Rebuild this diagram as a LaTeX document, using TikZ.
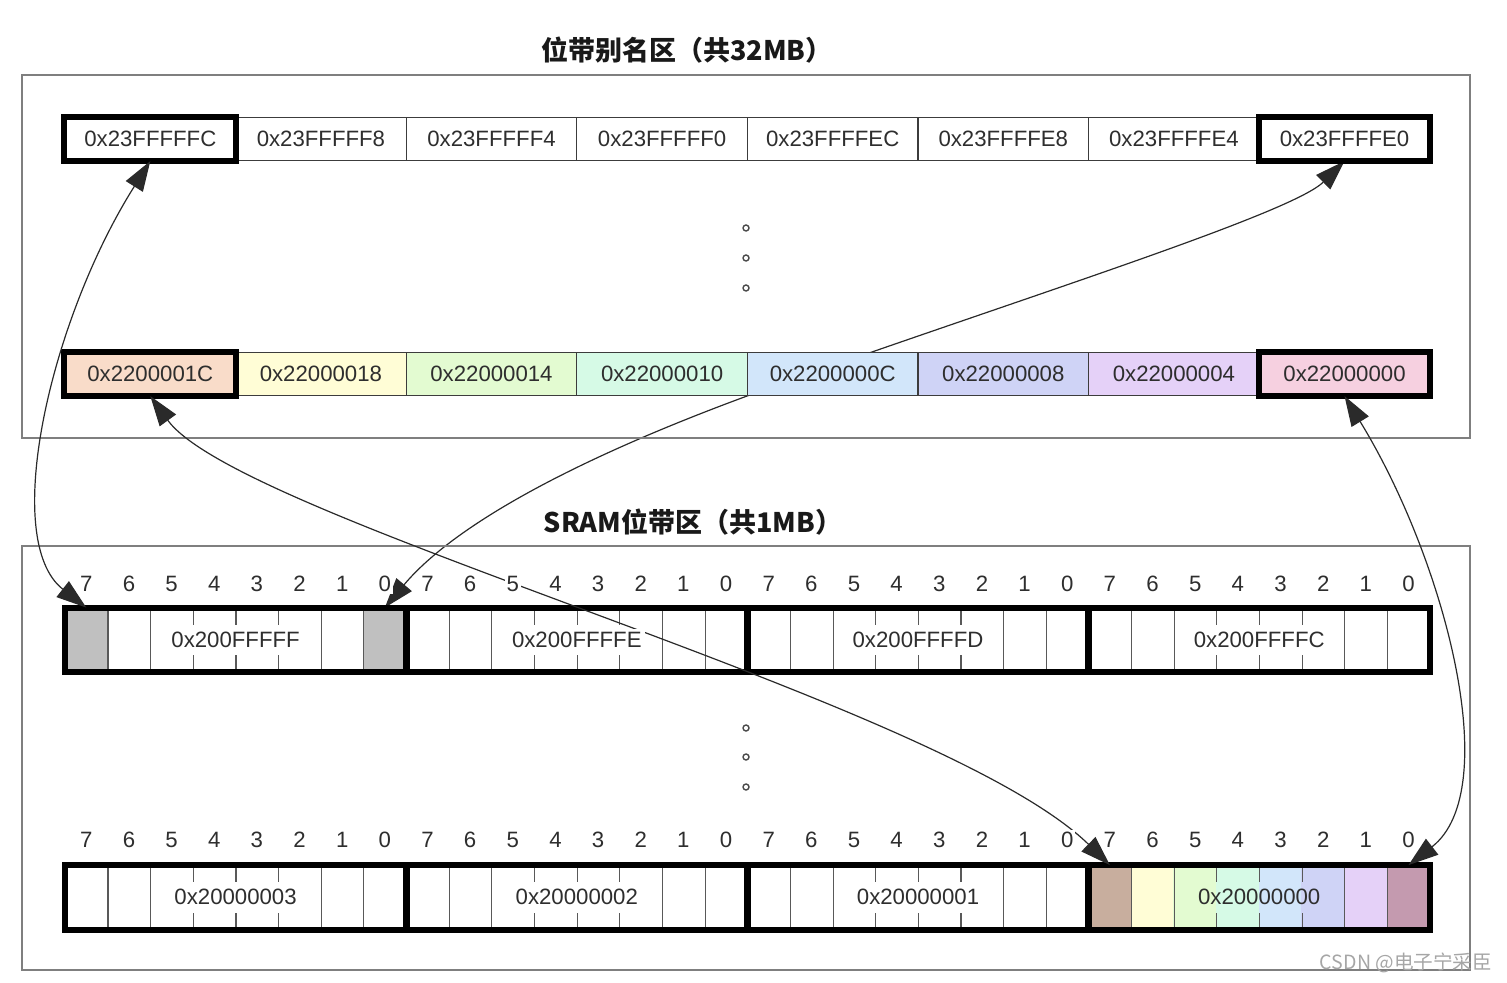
\documentclass[tikz,border=0pt]{standalone}
\usepackage{fontspec}
\setmainfont{Liberation Sans}
\newfontfamily\cjk{Noto Sans CJK SC}
\usepackage{tikz}
\usetikzlibrary{arrows.meta}
\pgfdeclarelayer{background}
\pgfsetlayers{background,main}

\definecolor{frameGray}{HTML}{7F7F7F}
\definecolor{cellLine}{HTML}{3C3C3C}
\definecolor{txtGray}{HTML}{2E2E2E}
\definecolor{linkGray}{HTML}{2A2A2A}
\definecolor{selGray}{HTML}{C0C0C0}
\definecolor{aPeach}{HTML}{F9DCC9}
\definecolor{aYellow}{HTML}{FFFDD6}
\definecolor{aGreen}{HTML}{E3FBD1}
\definecolor{aMint}{HTML}{D6FAE6}
\definecolor{aBlue}{HTML}{D2E6FA}
\definecolor{aLavender}{HTML}{CFD3F6}
\definecolor{aLilac}{HTML}{E5D1F8}
\definecolor{aPink}{HTML}{F6D0E0}
\definecolor{bTan}{HTML}{C8AE9E}
\definecolor{bMauve}{HTML}{C49AAF}

\newcommand{\cellfont}{\fontsize{11.1}{13}\selectfont}
\newcommand{\titlefont}{\cjk\bfseries\fontsize{13.5}{16}\selectfont}
\newcommand{\wmfont}{\cjk\fontsize{9.8}{11}\selectfont}

\begin{document}
\begin{tikzpicture}[x=0.5pt,y=-0.5pt,
    frame/.style={draw=frameGray,line width=0.7pt},
    cell/.style={draw=cellLine,line width=0.6pt,minimum width=85.3pt,minimum height=21.5pt,inner sep=0pt,text=txtGray,font=\cellfont},
    bitcell/.style={minimum width=21.325pt,minimum height=32pt,inner sep=0pt},
    divider/.style={draw=cellLine!85,line width=0.55pt},
    heavy/.style={draw=black,line width=3pt},
    bitno/.style={fill=white,inner sep=1pt,text=txtGray,font=\cellfont},
    bytelabel/.style={fill=white,inner sep=1.5pt,text=txtGray,font=\cellfont},
    link/.style={draw=linkGray,line width=0.6pt,{Triangle[length=15pt,width=10pt]}-{Triangle[length=15pt,width=10pt]}},
    dotmark/.style={circle,draw=black!70,fill=white,line width=0.7pt,minimum size=3pt,inner sep=0pt},
    title/.style={font=\titlefont,text=black!90},
    watermark/.style={font=\wmfont,text=black!35}]
  \useasboundingbox (0,0) rectangle (1507,983);

  % the two regions
  \draw[frame] (22,75) rectangle (1470,438);
  \draw[frame] (22,546) rectangle (1470,970);
  \node[title] (aliasTitle) at (687,50) {位带别名区（共32MB）};
  \node[title] (sramTitle) at (693,522) {SRAM位带区（共1MB）};

  % alias words
  \foreach \lab [count=\i from 0] in {FFFC,FFF8,FFF4,FFF0,FFEC,FFE8,FFE4,FFE0}
    \node[cell] (hi\i) at ({150.3+170.6*\i},139) {0x23FF\lab};
  \foreach \lab/\col [count=\i from 0] in {1C/aPeach,18/aYellow,14/aGreen,10/aMint,0C/aBlue,08/aLavender,04/aLilac,00/aPink}
    \node[cell,fill=\col] (lo\i) at ({150.3+170.6*\i},374) {0x220000\lab};
  \foreach \n in {hi0,hi7,lo0,lo7}
    \draw[heavy] (\n.south west) rectangle (\n.north east);

  \node[dotmark] (dotA) at (746,228) {};
  \node[dotmark] (dotB) at (746,258) {};
  \node[dotmark] (dotC) at (746,288) {};

  % bit rows
  \foreach \row/\yy in {u/640,d/897.5}
    \foreach \j in {0,...,3}
      \foreach \b in {0,...,7}
        \node[bitcell] (\row\j-\b) at ({86.3+341.2*\j+42.65*(7-\b)},\yy) {};
  \fill[selGray] (u0-7.south west) rectangle (u0-7.north east);
  \fill[selGray] (u0-0.south west) rectangle (u0-0.north east);
  \foreach \b/\col in {7/bTan,6/aYellow,5/aGreen,4/aMint,3/aBlue,2/aLavender,1/aLilac,0/bMauve}
    \fill[\col] (d3-\b.south west) rectangle (d3-\b.north east);
  \foreach \row in {u,d}
    \foreach \j in {0,...,3} {
      \foreach \b in {7,6,2,1}
        \draw[divider] (\row\j-\b.north east) -- (\row\j-\b.south east);
      \foreach \b in {5,4,3} {
        \draw[divider] (\row\j-\b.north east) -- ++(0,17);
        \draw[divider] (\row\j-\b.south east) -- ++(0,-17);
      }
      \draw[heavy] (\row\j-7.north west) rectangle (\row\j-0.south east);
    }

  % links between alias words and bits
  \begin{pgfonlayer}{background}
    \draw[link] (hi7.south) .. controls (1290,215) and (1000,305) .. (lo4.south west)
      .. controls (560,465) and (450,530) .. (u0-0.north);
  \end{pgfonlayer}
  \draw[link] (hi0.south) .. controls (50,320) and (0,540) .. (u0-7.north);
  \draw[link] (lo0.south) .. controls (240,520) and (940,700) .. (d3-7.north);
  \draw[link] (lo7.south) .. controls (1445,560) and (1505,790) .. (d3-0.north);

  % bit numbers and byte addresses
  \foreach \row/\ny in {u/584,d/840}
    \foreach \j in {0,...,3}
      \foreach \b in {0,...,7}
        \node[bitno] (n\row\j-\b) at ({86.3+341.2*\j+42.65*(7-\b)},\ny) {\b};
  \foreach \lab [count=\j from 0] in {FFFFF,FFFFE,FFFFD,FFFFC}
    \node[bytelabel] (lu\j) at ({235.6+341.2*\j},640) {0x200\lab};
  \foreach \lab [count=\j from 0] in {3,2,1}
    \node[bytelabel] (ld\j) at ({235.6+341.2*\j},897) {0x2000000\lab};
  \node[text=txtGray,font=\cellfont,inner sep=0pt] (ld3) at ({235.6+341.2*3},897) {0x20000000};

  \node[dotmark] (dotD) at (746,728) {};
  \node[dotmark] (dotE) at (746,757) {};
  \node[dotmark] (dotF) at (746,787) {};

  \node[watermark] (wm) at (1406,963) {CSDN @电子宁采臣};
\end{tikzpicture}
\end{document}
